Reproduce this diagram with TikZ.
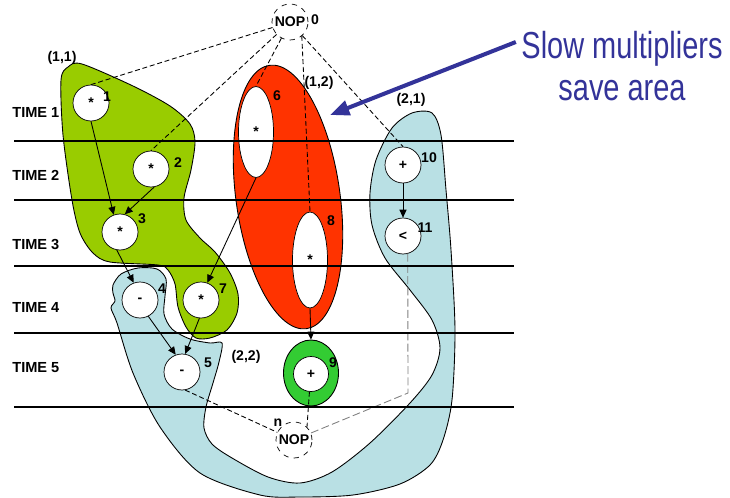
\documentclass[tikz,border=0pt]{standalone}
\usepackage{fontspec}
\setmainfont{Liberation Sans}
\newfontfamily\narrowsans[FakeStretch=0.77]{Liberation Sans}
\usetikzlibrary{arrows.meta,shapes.geometric}
\definecolor{grpgreen}{RGB}{153,204,0}
\definecolor{grpred}{RGB}{255,51,0}
\definecolor{grpblue}{RGB}{185,224,228}
\definecolor{ringgreen}{RGB}{51,204,51}
\definecolor{notenavy}{RGB}{51,51,153}
\newcommand{\boldsize}{\bfseries\fontsize{8}{9.5}\selectfont}

\begin{document}
\begin{tikzpicture}[x=0.02cm, y=-0.02cm,
  op/.style={circle, draw, fill=white, minimum size=0.72cm, inner sep=0pt, font=\boldsize},
  longop/.style={ellipse, draw, fill=white, inner sep=0pt, minimum width=0.7cm, font=\boldsize},
  nop/.style={circle, draw, dashed, minimum size=0.72cm, inner sep=0pt, font=\boldsize},
  num/.style={inner sep=0pt, font=\boldsize},
  timelbl/.style={anchor=west, inner sep=0pt, font=\bfseries\fontsize{8.3}{10}\selectfont},
  region/.style={draw, line width=0.5pt},
  flow/.style={-{Triangle[length=4.5pt,width=4pt]}, line width=0.5pt},
  ctrl/.style={dash pattern=on 2.8pt off 1.6pt, line width=0.5pt},
  timeline/.style={line width=0.7pt},
  pointer/.style={notenavy, line width=2.3pt, -{Triangle[length=11pt,width=8.5pt]}}]
\useasboundingbox (0,0) rectangle (730,497);

\filldraw[region, fill=grpgreen] plot[smooth cycle] coordinates {
  (61,80) (68,67) (82,64) (133,86) (170,106) (190,124) (195,142) (191,170)
  (184,198) (186,220) (200,238) (215,252) (230,273) (238,294) (237,313)
  (227,330) (210,338) (196,338) (186,327) (178,307) (175,284) (168,270)
  (158,265) (110,262) (93,253) (80,233) (72,200) (63,135)};
\filldraw[region, fill=grpred, rotate around={8:(288,197)}] (288,197) ellipse [x radius=1.04cm, y radius=2.66cm];
\filldraw[region, fill=grpblue] plot[smooth cycle] coordinates {
  (113,285) (121,274) (138,268) (157,269) (166,279) (165,296) (164,314)
  (172,329) (190,339) (210,343) (222,343) (219,362) (213,383) (206,407)
  (204,428) (212,444) (232,458) (268,477) (300,483) (332,472) (370,443)
  (410,403) (432,375) (440,348) (432,320) (410,290) (385,258) (372,225)
  (370,193) (376,160) (392,128) (412,113) (432,113) (441,135) (446,190)
  (451,250) (455,330) (452,400) (443,440) (430,465) (400,484) (353,495)
  (300,497) (260,495) (200,473) (160,427) (133,373) (117,323) (111,308)
  (115,301) (113,293)};

\node[nop] (n0) at (290,22) {NOP};
\node[op] (v1) at (91,103) {*};
\node[op] (v2) at (151,169) {*};
\node[op] (v3) at (120,232) {*};
\node[op] (v4) at (140,300) {-};
\node[op] (v7) at (201,300) {*};
\node[op] (v5) at (182,372) {-};
\node[longop, minimum height=1.82cm] (v6) at (256,132) {*};
\node[longop, minimum height=1.92cm] (v8) at (310,260) {*};
\node[ellipse, region, fill=ringgreen, minimum width=1.1cm, minimum height=1.32cm] (ring9) at (311,373) {};
\node[op, minimum size=0.7cm] (v9) at (311,374) {+};
\node[op] (v10) at (403,165) {+};
\node[op] (v11) at (403,236) {<};
\node[nop] (nN) at (294,440) {NOP};

\foreach \k/\x/\y in {0/315/20, 1/107/97, 2/178/163, 3/142/219, 4/162/289, 5/208/363,
  6/277/96, 7/223/289, 8/331/221, 9/333/363, 10/429/158, 11/425/228}
  \node[num] (lab\k) at (\x,\y) {\k};
\node[num] (labn) at (278,423) {n};
\node[num] (g11) at (62,58) {(1,1)};
\node[num] (g12) at (319,83) {(1,2)};
\node[num] (g21) at (411,100) {(2,1)};
\node[num] (g22) at (246,357) {(2,2)};

\draw[ctrl] (n0) -- (v1.north);
\draw[ctrl] (n0) -- (v2.north);
\draw[ctrl] (n0) -- (v6.north);
\draw[ctrl] (n0.-50) -- (v8.north);
\draw[ctrl] (n0) -- (v10.north);
\draw[flow] (v1.south) -- (v3.110);
\draw[flow] (v2.-80) -- (v3.75);
\draw[flow] (v3.-100) -- (v4.110);
\draw[flow] (v6.south) -- (v7.70);
\draw[flow] (v4.-63) -- (v5.110);
\draw[flow] (v7.-95) -- (v5.80);
\draw[flow] (v8.south) -- (ring9.north);
\draw[flow] (v10) -- (v11);
\draw[ctrl] (v5.-80) -- (nN);
\draw[ctrl] (v9.-95) -- (nN.45);
\coordinate (elbow) at (408,393);
\draw[ctrl, gray, dash pattern=on 4.5pt off 1.9pt] (v11.-75) -- (elbow) -- (nN);

\foreach \t/\y in {1/112, 2/175, 3/244, 4/307, 5/368}
  \node[timelbl] (time\t) at (12,\y) {TIME \t};
\foreach \y in {141,200,266,407}
  \draw[timeline] (14,\y) -- (514,\y);
\draw[timeline, line width=1.5pt] (14,333) -- (514,333);

\node[notenavy, align=center, inner sep=3pt, anchor=base,
  font=\narrowsans\fontsize{21.4}{23.8}\selectfont] (slow) at (622,100) {Slow multipliers\\save area};
\coordinate (slowtip) at (330,115);
\draw[pointer] (slow.west |- 0,42) -- (slowtip);
\end{tikzpicture}
\end{document}
